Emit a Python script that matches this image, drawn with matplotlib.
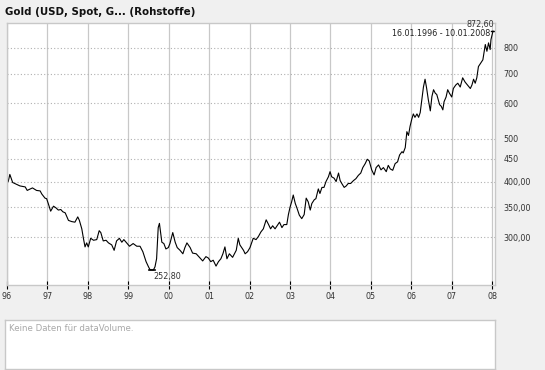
import matplotlib
matplotlib.use('Agg')
import matplotlib.pyplot as plt
from matplotlib.ticker import FixedLocator, NullLocator
import numpy as np

# Gold USD spot, weekly-ish (decimal years, USD)
jahre = [1996.03, 1996.07, 1996.14, 1996.32, 1996.45, 1996.50, 1996.63, 1996.73, 1996.82, 1996.86,
         1996.94, 1996.98, 1997.02, 1997.08, 1997.15, 1997.21, 1997.27, 1997.33, 1997.38, 1997.44,
         1997.52, 1997.60, 1997.68, 1997.75, 1997.79, 1997.85, 1997.89, 1997.93, 1997.97, 1998.01,
         1998.07, 1998.14, 1998.22, 1998.28, 1998.32, 1998.38, 1998.45, 1998.51, 1998.59, 1998.65,
         1998.71, 1998.78, 1998.84, 1998.89, 1998.96, 1999.03, 1999.12, 1999.21, 1999.29, 1999.36,
         1999.44, 1999.50, 1999.54, 1999.62, 1999.66, 1999.70, 1999.74, 1999.77, 1999.83, 1999.88,
         1999.93, 1999.99, 2000.03, 2000.10, 2000.16, 2000.21, 2000.28, 2000.35, 2000.40, 2000.45,
         2000.53, 2000.59, 2000.68, 2000.76, 2000.84, 2000.92, 2000.98, 2001.04, 2001.10, 2001.17,
         2001.23, 2001.29, 2001.34, 2001.39, 2001.44, 2001.50, 2001.58, 2001.67, 2001.72, 2001.76,
         2001.85, 2001.89, 2001.95, 2002.01, 2002.09, 2002.16, 2002.22, 2002.28, 2002.34, 2002.41,
         2002.47, 2002.52, 2002.57, 2002.63, 2002.69, 2002.74, 2002.80, 2002.85, 2002.92, 2002.96,
         2003.00, 2003.04, 2003.08, 2003.13, 2003.17, 2003.23, 2003.29, 2003.35, 2003.40, 2003.45,
         2003.50, 2003.54, 2003.60, 2003.64, 2003.70, 2003.74, 2003.79, 2003.84, 2003.89, 2003.95,
         2003.99, 2004.03, 2004.09, 2004.14, 2004.20, 2004.24, 2004.28, 2004.34, 2004.39, 2004.44,
         2004.50, 2004.57, 2004.63, 2004.69, 2004.75, 2004.80, 2004.86, 2004.91, 2004.96, 2005.02,
         2005.08, 2005.13, 2005.19, 2005.25, 2005.31, 2005.38, 2005.43, 2005.48, 2005.54, 2005.60,
         2005.66, 2005.71, 2005.77, 2005.80, 2005.85, 2005.89, 2005.93, 2005.97, 2006.01, 2006.05,
         2006.09, 2006.14, 2006.18, 2006.22, 2006.26, 2006.30, 2006.34, 2006.38, 2006.42, 2006.47,
         2006.51, 2006.55, 2006.59, 2006.63, 2006.70, 2006.74, 2006.78, 2006.81, 2006.86, 2006.90,
         2006.94, 2007.00, 2007.04, 2007.10, 2007.15, 2007.21, 2007.27, 2007.33, 2007.39, 2007.46,
         2007.50, 2007.54, 2007.58, 2007.62, 2007.66, 2007.72, 2007.77, 2007.83, 2007.87, 2007.91,
         2007.95, 2007.97, 2008.02]
kurs = [400, 415, 398, 391, 389, 382, 387, 382, 381, 375,
        367, 366, 357, 343, 352, 349, 345, 346, 342, 340,
        327, 325, 324, 333, 327, 313, 298, 285, 291, 285,
        298, 295, 296, 310, 307, 294, 295, 291, 288, 280,
        294, 298, 292, 296, 291, 286, 290, 286, 286, 278,
        264, 257, 253, 252.8, 257, 268, 315, 322, 292, 290,
        282, 284, 290, 307, 292, 284, 280, 275, 284, 291,
        284, 276, 275, 270, 265, 271, 269, 264, 266, 258,
        264, 268, 275, 285, 268, 275, 270, 280, 298, 288,
        280, 275, 278, 284, 298, 296, 301, 308, 313, 328,
        320, 313, 318, 313, 319, 324, 315, 320, 320, 337,
        350, 360, 373, 357, 349, 336, 330, 337, 367, 360,
        345, 357, 364, 366, 385, 376, 388, 388, 400, 410,
        421, 410, 407, 400, 418, 402, 396, 388, 391, 396,
        396, 402, 406, 413, 418, 430, 439, 449, 445, 425,
        414, 430, 436, 425, 430, 421, 435, 427, 424, 439,
        443, 459, 467, 464, 477, 518, 508, 533, 552, 568,
        558, 568, 558, 572, 612, 653, 680, 648, 612, 577,
        622, 644, 633, 628, 596, 591, 580, 605, 620, 644,
        633, 620, 648, 660, 666, 653, 685, 670, 660, 648,
        660, 680, 666, 685, 726, 740, 752, 814, 786, 821,
        793, 835, 872.6]

jahr_ticks = list(range(1996, 2009))
jahr_labels = ['96', '97', '98', '99', '00', '01', '02', '03', '04', '05', '06', '07', '08']
y_ticks = [300, 350, 400, 450, 500, 600, 700, 800]
y_labels = ['300,00', '350,00', '400,00', '450', '500', '600', '700', '800']

hintergrund = '#f0f0f0'
rahmen = '#c8c8c8'

fig = plt.figure(figsize=(5.45, 3.70), dpi=100, facecolor=hintergrund)

ax = fig.add_axes([7/545, 1 - 284.6/370, 488/545, 262/370])
ax.set_facecolor('white')
ax.plot(jahre, kurs, color='black', lw=0.8)
ax.set_yscale('log')
ax.set_ylim(234.4, 912)
ax.set_xlim(1996, 2008.07)

ax.yaxis.set_major_locator(FixedLocator(y_ticks))
ax.yaxis.set_minor_locator(NullLocator())
ax.set_yticklabels(y_labels)
ax.yaxis.tick_right()
ax.tick_params(axis='y', length=0, pad=6, labelsize=5.8, labelcolor='#333333')
ax.set_xticks(jahr_ticks)
ax.set_xticklabels(jahr_labels)
ax.tick_params(axis='x', direction='inout', length=6, width=0.8, color='black',
               labelsize=5.8, labelcolor='#333333', pad=2)
ax.grid(axis='x', color=rahmen, lw=0.9, ls='-')
ax.grid(axis='y', color='#b0b0b0', lw=0.8, ls=(0, (1, 2)))
for s in ax.spines.values():
    s.set_color(rahmen)
    s.set_linewidth(1)

# Hoch/Tief Markierungen
i_max = int(np.argmax(kurs))
i_min = int(np.argmin(kurs))
ax.plot([jahre[i_max] - 0.05, jahre[i_max] + 0.08], [kurs[i_max]] * 2, color='black', lw=1)
ax.plot([jahre[i_min] - 0.1, jahre[i_min] + 0.05], [kurs[i_min]] * 2, color='black', lw=1.2)
ax.annotate('872,60', (jahre[i_max], kurs[i_max]), xytext=(1, 1.5), textcoords='offset points',
            ha='right', va='bottom', fontsize=5.8, color='#333333')
ax.annotate('252,80', (jahre[i_min], kurs[i_min]), xytext=(0, -1.5), textcoords='offset points',
            ha='left', va='top', fontsize=5.8, color='#333333')
ax.text(0.99, 0.975, '16.01.1996 - 10.01.2008', transform=ax.transAxes,
        ha='right', va='top', fontsize=5.8, color='#222222')

fig.text(5/545, 1 - 12/370, 'Gold (USD, Spot, G... (Rohstoffe)', fontsize=7.4,
         fontweight='bold', color='#111111', va='center', ha='left')

# Volumen-Box
ax2 = fig.add_axes([5/545, 1 - 369/370, 490/545, 49/370])
ax2.set_facecolor('white')
ax2.set_xticks([])
ax2.set_yticks([])
for s in ax2.spines.values():
    s.set_color(rahmen)
    s.set_linewidth(1)
ax2.text(0.008, 0.92, 'Keine Daten für dataVolume.', transform=ax2.transAxes,
         ha='left', va='top', fontsize=6.2, color='#a8a8a8')

fig.savefig('out.png', dpi=100, facecolor=hintergrund)
